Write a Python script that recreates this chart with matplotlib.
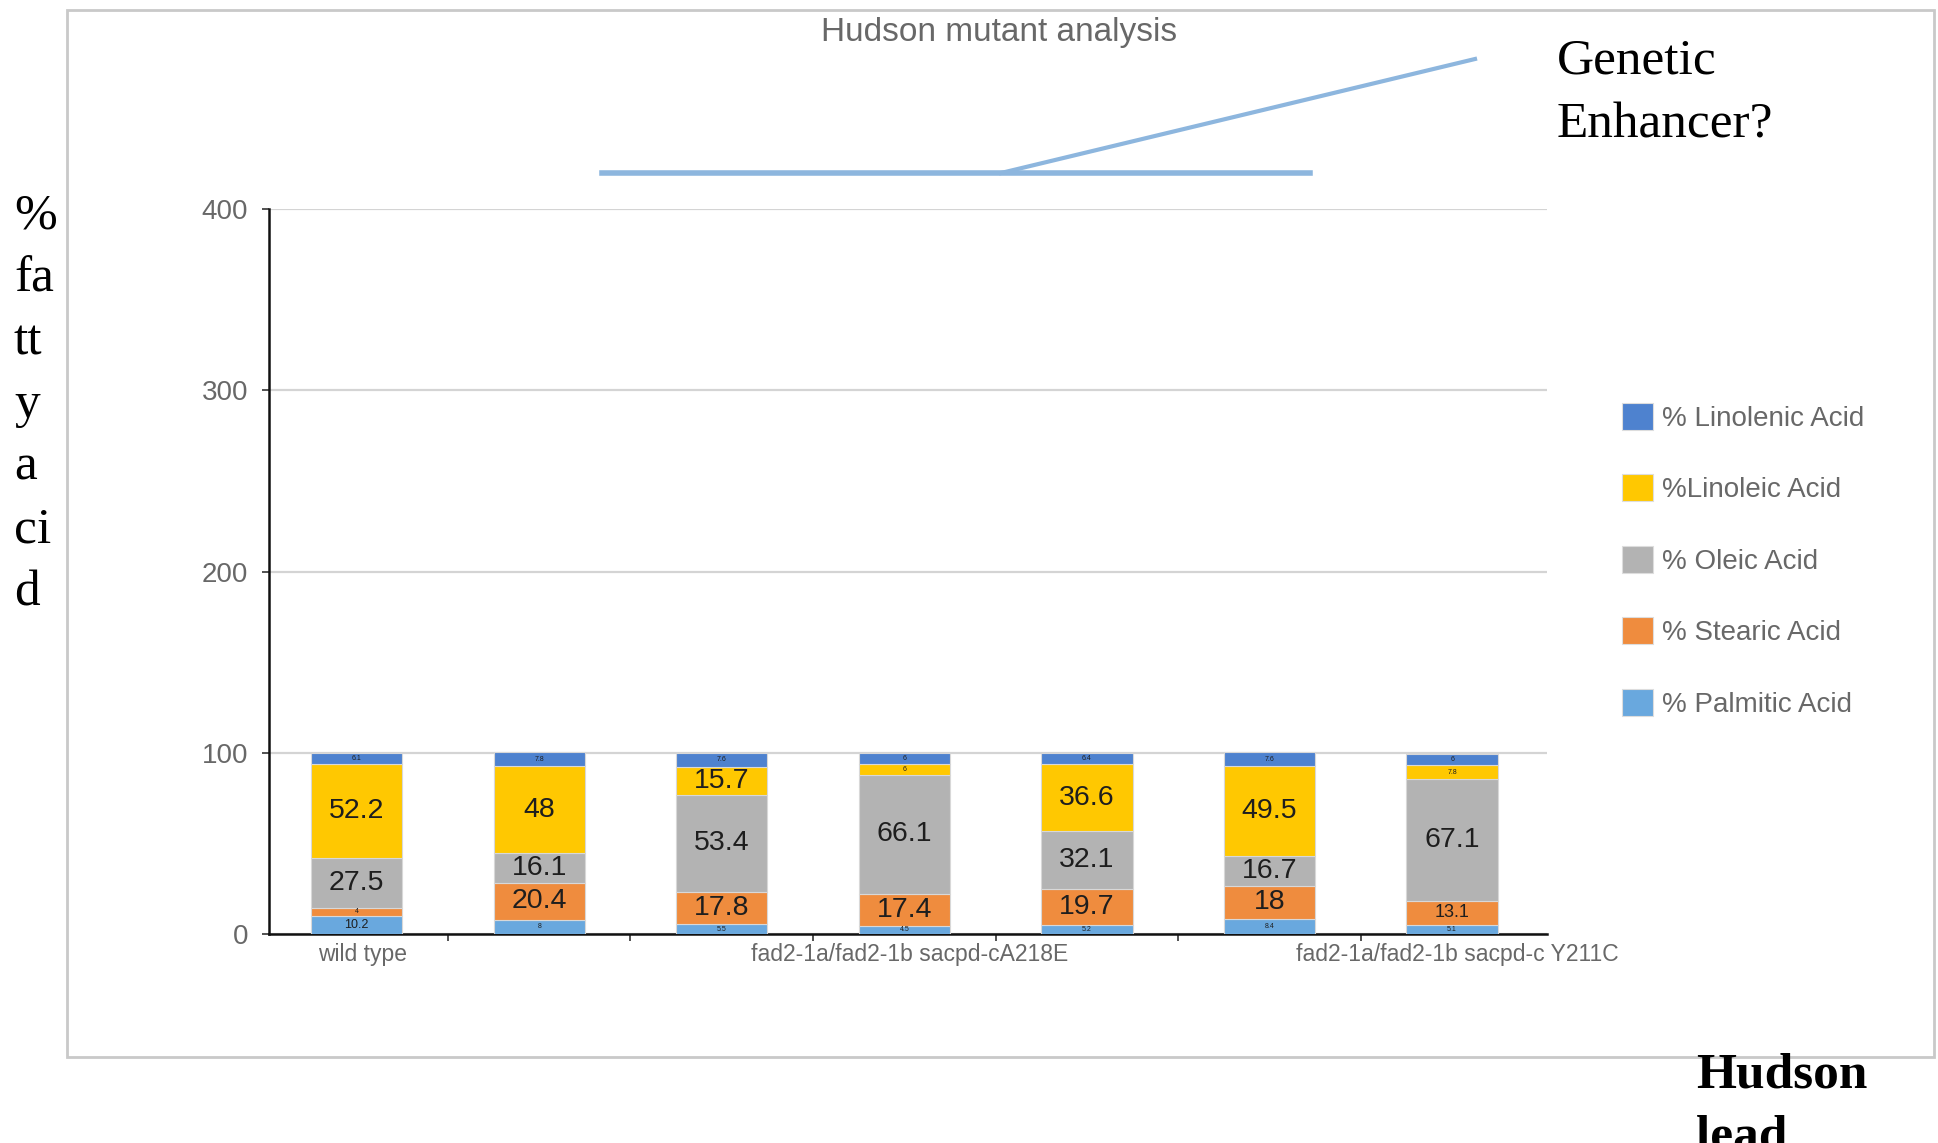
import matplotlib
matplotlib.use("Agg")
import matplotlib.pyplot as plt
from matplotlib.lines import Line2D
from matplotlib.patches import Rectangle, Patch
import numpy as np

# Fatty acid composition (%) per line, stacked bottom to top
categories = ["wild type", "", "", "fad2-1a/fad2-1b sacpd-cA218E", "", "", "fad2-1a/fad2-1b sacpd-c Y211C"]
palmitic = [10.2, 8.0, 5.5, 4.5, 5.2, 8.4, 5.1]
stearic = [4.0, 20.4, 17.8, 17.4, 19.7, 18.0, 13.1]
oleic = [27.5, 16.1, 53.4, 66.1, 32.1, 16.7, 67.1]
linoleic = [52.2, 48.0, 15.7, 6.0, 36.6, 49.5, 7.8]
linolenic = [6.1, 7.8, 7.6, 6.0, 6.4, 7.6, 6.0]

series_names = ["% Palmitic Acid", "% Stearic Acid", "% Oleic Acid", "%Linoleic Acid", "% Linolenic Acid"]
series_values = [palmitic, stearic, oleic, linoleic, linolenic]
series_colors = ["#69a8de", "#ef8c3e", "#b3b3b3", "#ffc801", "#4e82cf"]

y_ticks = [0, 100, 200, 300, 400]

W, H = 1938, 1143
fig = plt.figure(figsize=(W / 100, H / 100), dpi=100)
fig.patch.set_facecolor("white")

sans = ["Liberation Sans", "DejaVu Sans"]
serif = ["Liberation Serif", "DejaVu Serif"]
grey_txt = "#686868"

# outer chart frame
fig.add_artist(Rectangle((67 / W, 1 - 1057 / H), (1934 - 67) / W, (1057 - 10) / H,
                         transform=fig.transFigure, fill=False, edgecolor="#c9c9c9", lw=2))

ax = fig.add_axes([269 / W, 1 - 934 / H, (1547 - 269) / W, (934 - 209) / H])
x = np.arange(len(categories))
bottom = np.zeros(len(categories))


def label_size(v):
    if v >= 15:
        return 20.5
    if v >= 12:
        return 13
    if v >= 10:
        return 9
    return 5


for name, vals, col in zip(series_names, series_values, series_colors):
    vals = np.array(vals, dtype=float)
    ax.bar(x, vals, width=0.5, bottom=bottom, color=col, edgecolor="#d8d8d8",
           linewidth=0.8, label=name, zorder=3)
    for xi, b, v in zip(x, bottom, vals):
        ax.text(xi, b + v / 2, f"{v:g}", ha="center", va="center",
                fontsize=label_size(v), color="#1e1e1e", family=sans, zorder=4)
    bottom += vals

ax.set_xlim(-0.48, 6.52)
ax.set_ylim(0, 400)
ax.set_yticks(y_ticks)
ax.set_yticklabels([str(t) for t in y_ticks], fontsize=20, color=grey_txt, family=sans)
ax.yaxis.grid(True, color="#d4d4d4", lw=1.6, zorder=0)
ax.set_axisbelow(True)

# tick marks sit between categories, labels under the bars
ax.set_xticks(np.arange(len(categories) - 1) + 0.5)
ax.set_xticklabels([])
ax.tick_params(axis="x", length=5, width=1.2, color="#333333", direction="out")
ax.tick_params(axis="y", length=5, width=1.2, color="#333333", pad=10)
for xi, lab in zip(x, categories):
    if lab:
        ax.text(xi + 0.03, -0.012, lab, transform=ax.get_xaxis_transform(), ha="center", va="top",
                fontsize=16.5, color=grey_txt, family=sans)

for s in ["top", "right"]:
    ax.spines[s].set_visible(False)
ax.spines["left"].set_color("#111111")
ax.spines["bottom"].set_color("#111111")
ax.spines["left"].set_linewidth(1.8)
ax.spines["bottom"].set_linewidth(1.8)

# title
fig.text(999 / W, 1 - 32 / H, "Hudson mutant analysis", ha="center", va="center",
         fontsize=24, color=grey_txt, family=sans)

# legend (top entry is the top of the stack)
handles = [Patch(facecolor=c, edgecolor="#dddddd", lw=0.8) for c in series_colors][::-1]
fig.legend(handles, series_names[::-1], loc="upper left",
           bbox_to_anchor=(1608 / W, 1 - 389 / H), frameon=False, borderpad=0,
           prop={"family": sans, "size": 20}, labelcolor=grey_txt,
           handlelength=1.12, handleheight=1.12, handletextpad=0.32, labelspacing=1.53)

# annotation callout lines
line_col = "#8db6de"
fig.add_artist(Line2D([602 / W, 1310 / W], [1 - 173 / H, 1 - 173 / H],
                      transform=fig.transFigure, color=line_col, lw=4))
fig.add_artist(Line2D([1001 / W, 1475 / W], [1 - 173 / H, 1 - 59 / H],
                      transform=fig.transFigure, color=line_col, lw=3))

fig.text(1557 / W, 1 - 38 / H, "Genetic\nEnhancer?", ha="left", va="top",
         fontsize=37, family=serif, color="black", linespacing=1.48)

fig.text(14 / W, 1 - 193 / H, "%\nfa\ntt\ny\na\nci\nd", ha="left", va="top",
         fontsize=37, family=serif, color="black", linespacing=1.46)

fig.text(1696 / W, 1 - 1052 / H, "Hudson\nlead", ha="left", va="top",
         fontsize=37, family=serif, weight="bold", color="black", linespacing=1.46)

fig.savefig("out.png", dpi=100, facecolor="white")
